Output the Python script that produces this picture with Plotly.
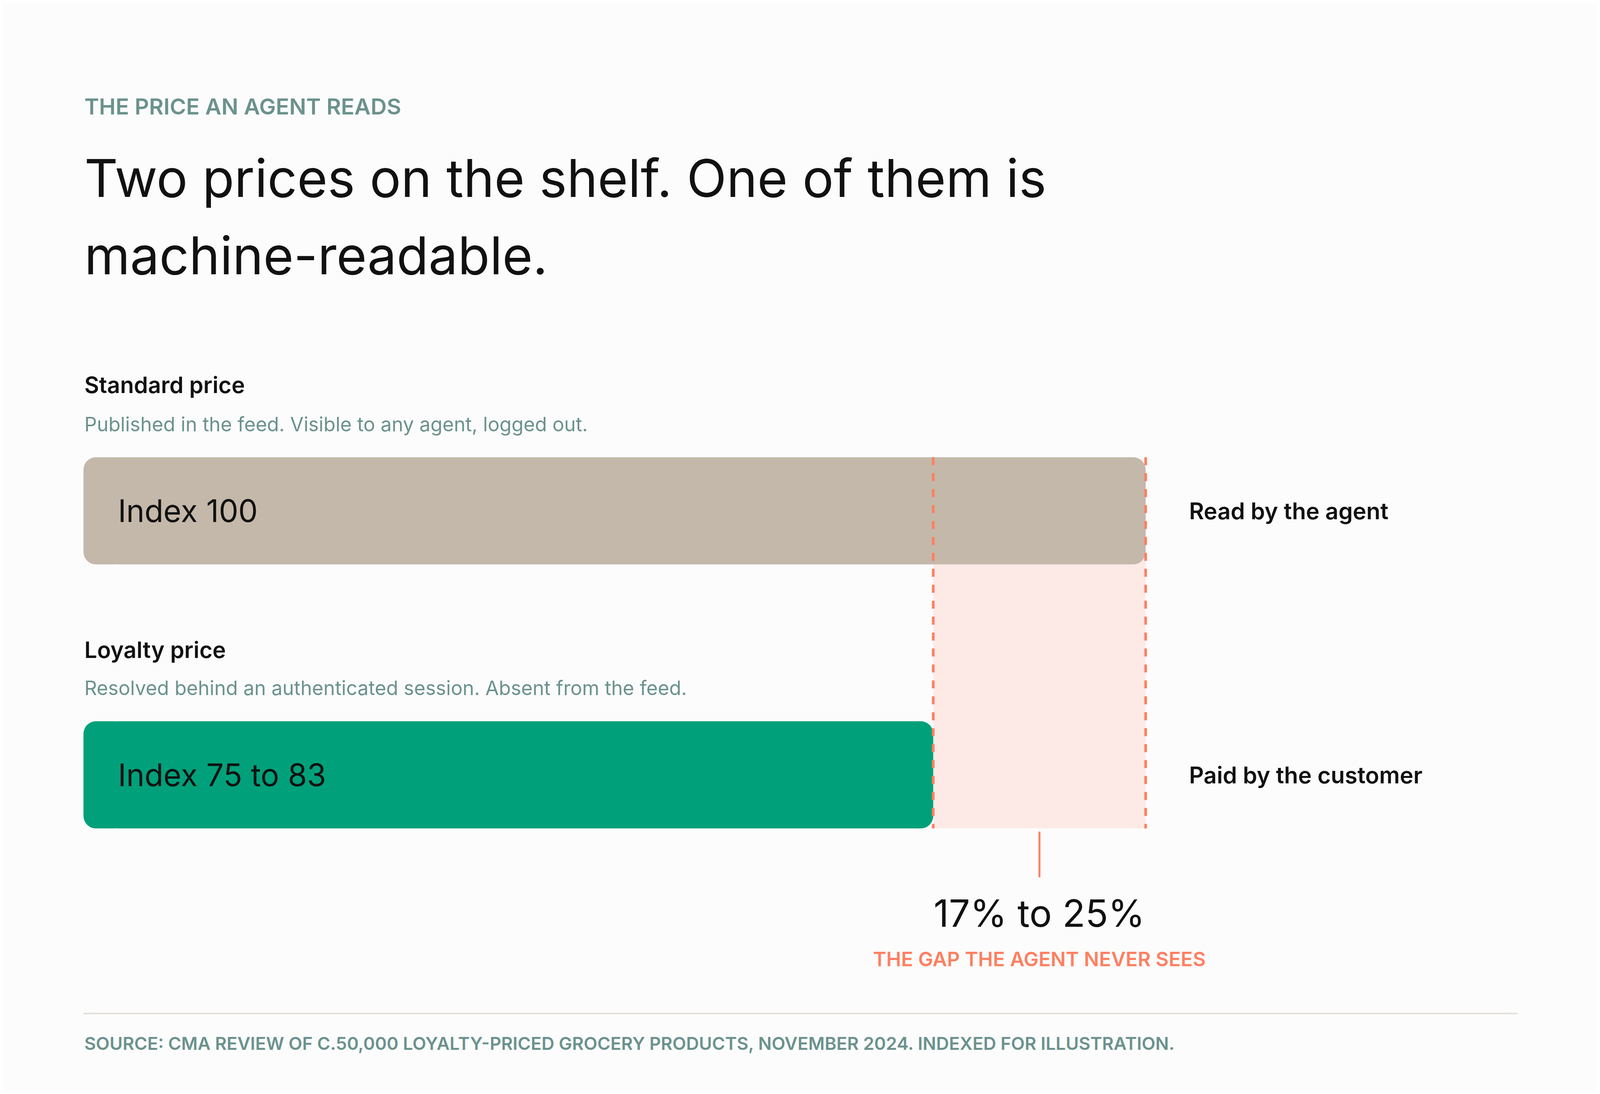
import plotly.graph_objects as go

# data
rows = ['Standard price', 'Loyalty price']
row_notes = ['Published in the feed. Visible to any agent, logged out.',
             'Resolved behind an authenticated session. Absent from the feed.']
index_values = [100, 80]
index_labels = ['Index 100', 'Index 75 to 83']
side_labels = ['Read by the agent', 'Paid by the customer']
gap_label = '17% to 25%'
gap_caption = 'THE GAP THE AGENT NEVER SEES'

eyebrow = 'THE PRICE AN AGENT READS'
title_lines = ['Two prices on the shelf. One of them is', 'machine-readable.']
source = 'SOURCE: CMA REVIEW OF C.50,000 LOYALTY-PRICED GROCERY PRODUCTS, NOVEMBER 2024. INDEXED FOR ILLUSTRATION.'

# colours
bg = '#fcfcfc'
bar_colors = ['#c4b8aa', '#00a07a']
salmon = '#ff7f61'
pink = '#fdeae6'
muted = '#6b928d'
ink = '#111111'
rule = '#e2ddd7'

FONT = 'Inter'
K = 0.85          # page px per design px (figure fills the window)
BAR_W = 0.406
CAP = 2           # length of the left cap piece, in index points


def px(v):
    return v * K


fig = go.Figure()

# plotly only rounds the tip of a bar, so a short reversed cap rounds the base end
for name, v, c in zip(rows, index_values, bar_colors):
    fig.add_trace(go.Bar(y=[name], x=[v - CAP], base=[CAP], orientation='h',
                         width=BAR_W, marker=dict(color=c, cornerradius=px(38), line=dict(width=0)),
                         hoverinfo='skip', showlegend=False))
    fig.add_trace(go.Bar(y=[name], x=[-2 * CAP], base=[2 * CAP], orientation='h',
                         width=BAR_W, marker=dict(color=c, cornerradius=px(38), line=dict(width=0)),
                         hoverinfo='skip', showlegend=False))

hi, lo = max(index_values), min(index_values)
mid = (hi + lo) / 2

# gap band + dashed edges + connector
fig.add_shape(type='rect', xref='x', yref='y', x0=lo, x1=hi, y0=0, y1=1 + BAR_W / 2,
              fillcolor=pink, line=dict(width=0), layer='below')
dash = f'{px(24):.1f}px,{px(24):.1f}px'
for xv in (lo, hi):
    fig.add_shape(type='line', xref='x', yref='y', x0=xv, x1=xv, y0=-BAR_W / 2, y1=1 + BAR_W / 2,
                  line=dict(color=salmon, width=px(8), dash=dash), layer='above')
fig.add_shape(type='line', xref='x', yref='y', x0=mid, x1=mid, y0=1 + BAR_W / 2 + 0.012, y1=1.388,
              line=dict(color=salmon, width=px(6)))

# footer rule
fig.add_shape(type='line', xref='paper', yref='paper', x0=0.0504, x1=0.9502, y0=0.0711, y1=0.0711,
              line=dict(color=rule, width=px(4)))

ann = []


def text(s, x, y, size, color=ink, weight=400, xref='paper', yref='paper', xanchor='left', xshift=0):
    ann.append(dict(text=s, x=x, y=y, xref=xref, yref=yref, xanchor=xanchor, yanchor='middle',
                    showarrow=False, xshift=px(xshift),
                    font=dict(family=FONT, size=px(size), color=color, weight=weight)))


text(eyebrow, 0.0504, 0.905, 67, muted, 600)
text(title_lines[0], 0.0504, 0.8393, 157)
text(title_lines[1], 0.0504, 0.7682, 157)

head_y = [0.6489, 0.4054]
note_y = [0.6129, 0.3704]
for i, name in enumerate(rows):
    text(name, 0.0504, head_y[i], 68, ink, 600)
    text(row_notes[i], 0.0504, note_y[i], 59, muted)
    text(index_labels[i], 0, name, 93, ink, 400, xref='x', yref='y', xshift=102)
    text(side_labels[i], hi, name, 69, ink, 600, xref='x', yref='y', xshift=128)

text(gap_label, mid, 0.1636, 113, ink, 400, xref='x', xanchor='center')
text(gap_caption, mid, 0.1211, 60, salmon, 600, xref='x', xanchor='center')
text(source, 0.0504, 0.0436, 53.5, muted, 600)

fig.update_layout(
    autosize=True, margin=dict(l=0, r=0, t=0, b=0),
    paper_bgcolor=bg, plot_bgcolor=bg, barmode='overlay',
    xaxis=dict(range=[-7.565, 142.48], visible=False, fixedrange=True),
    yaxis=dict(range=[2.197, -1.923], visible=False, fixedrange=True,
               categoryorder='array', categoryarray=rows),
    annotations=ann, showlegend=False,
)

fig.write_html('out.html')
